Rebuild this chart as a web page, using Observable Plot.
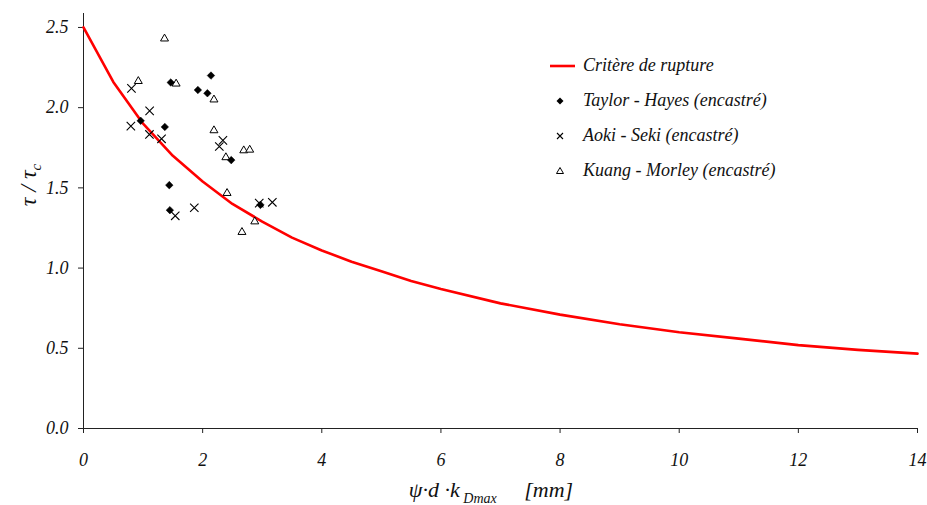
<!DOCTYPE html>
<html>
<head>
<meta charset="utf-8">
<script src="https://cdn.jsdelivr.net/npm/d3@7"></script>
<script src="https://cdn.jsdelivr.net/npm/@observablehq/plot@0.6"></script>
<style>
  html, body { margin: 0; padding: 0; background: #fff; }
  #wrap, #wrap * { font-family: 'Liberation Serif' !important; font-style: italic; }
  #wrap { position: relative; width: 927px; height: 505px; color: #111; }
  .lbl { position: absolute; white-space: nowrap; }
  .leg { position: absolute; left: 548px; top: 48px; font-size: 18px; }
  .leg div { height: 35px; display: flex; align-items: center; }
  .leg svg { width: 32px; height: 14px; margin-right: 3px; }
</style>
</head>
<body>
<div id="wrap"></div>
<script>
// Failure criterion curve
const curveX = [0, 0.5, 1, 1.5, 2, 2.5, 3, 3.5, 4, 4.5, 5, 5.5, 6, 7, 8, 9, 10, 11, 12, 13, 14];
const curveY = [2.50, 2.16, 1.90, 1.70, 1.54, 1.40, 1.29, 1.19, 1.11, 1.04, 0.98, 0.92, 0.87, 0.78, 0.71, 0.65, 0.60, 0.56, 0.52, 0.49, 0.467];

// Taylor - Hayes (encastré)
const taylorX = [2.14, 1.465, 1.92, 2.08, 0.96, 1.365, 2.48, 1.44, 1.45, 2.97];
const taylorY = [2.20, 2.157, 2.11, 2.09, 1.918, 1.88, 1.673, 1.517, 1.361, 1.394];

// Aoki - Seki (encastré)
const aokiX = [0.805, 1.11, 0.795, 1.107, 1.31, 2.34, 2.28, 1.86, 1.54, 2.95, 3.17];
const aokiY = [2.12, 1.98, 1.885, 1.833, 1.806, 1.796, 1.758, 1.376, 1.326, 1.405, 1.41];

// Kuang - Morley (encastré)
const kuangX = [1.36, 0.92, 1.555, 2.19, 2.19, 2.39, 2.69, 2.79, 2.41, 2.875, 2.66];
const kuangY = [2.43, 2.165, 2.149, 2.05, 1.858, 1.69, 1.733, 1.737, 1.467, 1.29, 1.224];

const xTicks = [0, 2, 4, 6, 8, 10, 12, 14];
const yTicks = [0, 0.5, 1.0, 1.5, 2.0, 2.5];

const legendLabels = ["Critère de rupture", "Taylor - Hayes (encastré)", "Aoki - Seki (encastré)", "Kuang - Morley (encastré)"];

const curve = curveX.map((x, i) => ({x, y: curveY[i]}));
const taylor = taylorX.map((x, i) => ({x, y: taylorY[i]}));
const aoki = aokiX.map((x, i) => ({x, y: aokiY[i]}));
const kuang = kuangX.map((x, i) => ({x, y: kuangY[i]}));

const plot = Plot.plot({
  width: 927,
  height: 505,
  marginLeft: 83,
  marginRight: 10,
  marginTop: 13,
  marginBottom: 77,
  style: {fontFamily: "Liberation Serif", fontStyle: "italic", fontSize: "17px", color: "#111", background: "white"},
  x: {domain: [0, 14], ticks: xTicks, label: null},
  y: {domain: [0, 2.587], ticks: yTicks, label: null},
  marks: [
    Plot.ruleX([0], {stroke: "#222", strokeWidth: 1}),
    Plot.ruleY([0], {stroke: "#222", strokeWidth: 1}),
    Plot.axisX({ticks: xTicks, tickSize: 5, tickPadding: 20, tickFormat: d => String(d), stroke: "#222", fill: "#111", fontSize: 18}),
    Plot.axisY({ticks: yTicks, tickSize: 5, tickPadding: 10, tickFormat: d3.format(".1f"), stroke: "#222", fill: "#111", fontSize: 18}),
    Plot.line(curve, {x: "x", y: "y", stroke: "#ff0000", strokeWidth: 2.6}),
    Plot.dot(kuang, {x: "x", y: "y", symbol: "triangle2", r: 3.8, stroke: "#000", strokeWidth: 1, fill: "white"}),
    Plot.dot(aoki, {x: "x", y: "y", symbol: "times", r: 3.9, stroke: "#000", strokeWidth: 1.1}),
    Plot.dot(taylor, {x: "x", y: "y", symbol: "diamond2", r: 3.4, fill: "#000", stroke: "#000", strokeWidth: 0.5})
  ]
});

const wrap = document.getElementById("wrap");
wrap.appendChild(plot);

// Axis titles
const yl = document.createElement("div");
yl.className = "lbl";
yl.style.cssText = "left:30px;top:185px;font-size:24px;transform:translate(-50%,-50%) rotate(-90deg);";
yl.innerHTML = "τ / τ<sub style='font-size:15px'>c</sub>";
wrap.appendChild(yl);

const xl = document.createElement("div");
xl.className = "lbl";
xl.style.cssText = "left:491px;top:492px;font-size:22px;transform:translate(-50%,-50%);";
xl.innerHTML = "ψ·d ·k<sub style='font-size:14px'> Dmax</sub>&nbsp;&nbsp;&nbsp;&nbsp;&nbsp;[mm]";
wrap.appendChild(xl);

// Legend
const leg = document.createElement("div");
leg.className = "leg";
const icons = [
  "<line x1='2' y1='7' x2='27' y2='7' stroke='#ff0000' stroke-width='2.6'/>",
  "<path d='M12,3.5 L15.5,7 L12,10.5 L8.5,7 Z' fill='#000'/>",
  "<path d='M9,4 L15,10 M15,4 L9,10' stroke='#000' stroke-width='1.1'/>",
  "<path d='M12,3.5 L15.5,9.5 L8.5,9.5 Z' fill='white' stroke='#000' stroke-width='1'/>"
];
legendLabels.forEach((t, i) => {
  const row = document.createElement("div");
  row.innerHTML = "<svg viewBox='0 0 32 14'>" + icons[i] + "</svg><span>" + t + "</span>";
  leg.appendChild(row);
});
wrap.appendChild(leg);

wrap.querySelectorAll("text, span, div, tspan, sub").forEach(el => {
  el.style.setProperty("font-family", "'Liberation Serif'", "important");
  el.setAttribute("font-family", "Liberation Serif");
});
</script>
</body>
</html>
